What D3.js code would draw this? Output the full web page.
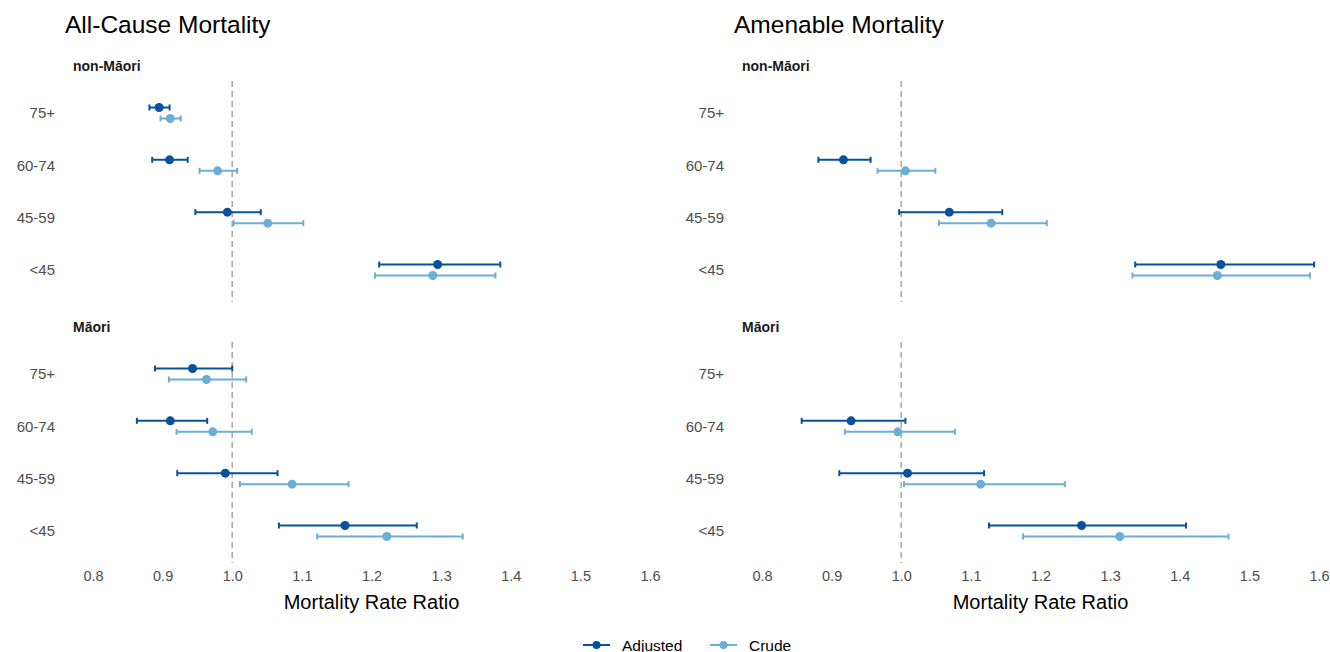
<!DOCTYPE html>
<html>
<head>
<meta charset="utf-8">
<title>Mortality Rate Ratios</title>
<style>
body { margin: 0; background: #fff; }
svg { font-family: "Liberation Sans", Arial, Helvetica, sans-serif; }
</style>
</head>
<body>
<div id="chart"></div>
<script src="https://d3js.org/d3.v7.min.js"></script>
<script>
// age groups, top to bottom
const ageGroups = ['75+', '60-74', '45-59', '<45'];
const ethnicities = ['non-Māori', 'Māori'];
const outcomes = ['All-Cause Mortality', 'Amenable Mortality'];
const series = ['Adjusted', 'Crude'];
const xTicks = [0.8, 0.9, 1.0, 1.1, 1.2, 1.3, 1.4, 1.5, 1.6];

// [estimate, lower, upper] per age group (null = not shown)
const allCauseNonMaoriAdj = [[0.895, 0.881, 0.910], [0.910, 0.885, 0.936], [0.993, 0.947, 1.041], [1.295, 1.211, 1.385]];
const allCauseNonMaoriCrude = [[0.911, 0.897, 0.926], [0.979, 0.953, 1.007], [1.051, 1.002, 1.102], [1.288, 1.205, 1.378]];
const allCauseMaoriAdj = [[0.943, 0.889, 1.000], [0.911, 0.863, 0.964], [0.990, 0.921, 1.065], [1.162, 1.067, 1.265]];
const allCauseMaoriCrude = [[0.963, 0.909, 1.020], [0.972, 0.920, 1.028], [1.086, 1.011, 1.167], [1.222, 1.122, 1.331]];
const amenableNonMaoriAdj = [null, [0.917, 0.881, 0.956], [1.069, 0.997, 1.145], [1.459, 1.336, 1.593]];
const amenableNonMaoriCrude = [null, [1.006, 0.966, 1.049], [1.129, 1.054, 1.209], [1.454, 1.332, 1.587]];
const amenableMaoriAdj = [null, [0.928, 0.857, 1.006], [1.009, 0.911, 1.119], [1.259, 1.126, 1.409]];
const amenableMaoriCrude = [null, [0.995, 0.919, 1.077], [1.114, 1.004, 1.235], [1.314, 1.175, 1.470]];

const colors = { Adjusted: '#08519c', Crude: '#6baed6' };

const panels = [
  { outcome: 0, eth: 0, data: { Adjusted: allCauseNonMaoriAdj, Crude: allCauseNonMaoriCrude } },
  { outcome: 0, eth: 1, data: { Adjusted: allCauseMaoriAdj, Crude: allCauseMaoriCrude } },
  { outcome: 1, eth: 0, data: { Adjusted: amenableNonMaoriAdj, Crude: amenableNonMaoriCrude } },
  { outcome: 1, eth: 1, data: { Adjusted: amenableMaoriAdj, Crude: amenableMaoriCrude } }
];

const width = 1330, height = 652;
const colLeft = [93, 762];   // x of 0.8 for each column
const colWidth = 557;
const facetTop = [113, 374]; // y of first age group
const facetSpan = 157;
const dodge = { Adjusted: -5.5, Crude: 5.5 };

const svg = d3.select('#chart').append('svg')
  .attr('width', width)
  .attr('height', height);

outcomes.forEach((title, c) => {
  const x = d3.scaleLinear().domain([0.8, 1.6]).range([colLeft[c], colLeft[c] + colWidth]);

  svg.append('text')
    .attr('x', colLeft[c] - 28)
    .attr('y', 33)
    .attr('font-size', 24.5)
    .attr('fill', '#000')
    .text(title);

  // x axis
  const xa = svg.append('g')
    .attr('transform', `translate(0,565)`)
    .call(d3.axisBottom(x).tickValues(xTicks).tickFormat(d3.format('.1f')).tickSize(0).tickPadding(6));
  xa.select('.domain').remove();
  xa.selectAll('text').attr('font-size', 14.5).attr('fill', '#4d4d4d').attr('font-family', null);

  svg.append('text')
    .attr('x', (colLeft[c] + colLeft[c] + colWidth) / 2)
    .attr('y', 609)
    .attr('text-anchor', 'middle')
    .attr('font-size', 20)
    .attr('fill', '#000')
    .text('Mortality Rate Ratio');
});

panels.forEach(p => {
  const x = d3.scaleLinear().domain([0.8, 1.6]).range([colLeft[p.outcome], colLeft[p.outcome] + colWidth]);
  const y = d3.scalePoint().domain(ageGroups).range([facetTop[p.eth], facetTop[p.eth] + facetSpan]);
  const g = svg.append('g');

  // strip label
  g.append('text')
    .attr('x', colLeft[p.outcome] - 20)
    .attr('y', facetTop[p.eth] - 42)
    .attr('font-size', 14)
    .attr('font-weight', 'bold')
    .attr('fill', '#1a1a1a')
    .text(ethnicities[p.eth]);

  // y axis
  const ya = g.append('g')
    .attr('transform', `translate(${colLeft[p.outcome] - 33},0)`)
    .call(d3.axisLeft(y).tickSize(0).tickPadding(5));
  ya.select('.domain').remove();
  ya.selectAll('text').attr('font-size', 15).attr('fill', '#4d4d4d').attr('font-family', null);

  // reference line
  g.append('line')
    .attr('x1', x(1)).attr('x2', x(1))
    .attr('y1', facetTop[p.eth] - 32).attr('y2', facetTop[p.eth] + facetSpan + 32)
    .attr('stroke', '#aaaaaa')
    .attr('stroke-width', 1.6)
    .attr('stroke-dasharray', '6,4');

  series.forEach(s => {
    const rows = p.data[s]
      .map((d, i) => d ? { age: ageGroups[i], est: d[0], lo: d[1], hi: d[2] } : null)
      .filter(d => d);
    const sg = g.append('g').attr('stroke', colors[s]).attr('fill', colors[s]);
    const cy = d => y(d.age) + dodge[s];

    sg.selectAll('line.bar').data(rows).join('line')
      .attr('class', 'bar')
      .attr('x1', d => x(d.lo)).attr('x2', d => x(d.hi))
      .attr('y1', cy).attr('y2', cy)
      .attr('stroke-width', 2);
    sg.selectAll('line.capl').data(rows).join('line')
      .attr('class', 'capl')
      .attr('x1', d => x(d.lo)).attr('x2', d => x(d.lo))
      .attr('y1', d => cy(d) - 3).attr('y2', d => cy(d) + 3)
      .attr('stroke-width', 2);
    sg.selectAll('line.caph').data(rows).join('line')
      .attr('class', 'caph')
      .attr('x1', d => x(d.hi)).attr('x2', d => x(d.hi))
      .attr('y1', d => cy(d) - 3).attr('y2', d => cy(d) + 3)
      .attr('stroke-width', 2);
    sg.selectAll('circle').data(rows).join('circle')
      .attr('cx', d => x(d.est))
      .attr('cy', cy)
      .attr('r', 4.5)
      .attr('stroke', 'none');
  });
});

// legend
const legend = svg.append('g').attr('transform', 'translate(583,645)');
const legX = [0, 127];
series.forEach((s, i) => {
  const lg = legend.append('g').attr('transform', `translate(${legX[i]},0)`);
  lg.append('line').attr('x1', 0).attr('x2', 27).attr('y1', 0).attr('y2', 0)
    .attr('stroke', colors[s]).attr('stroke-width', 2);
  lg.append('circle').attr('cx', 13.5).attr('cy', 0).attr('r', 4).attr('fill', colors[s]);
  lg.append('text').attr('x', 39).attr('y', 5.5).attr('font-size', 15.5).attr('fill', '#000').text(s);
});
</script>
</body>
</html>
